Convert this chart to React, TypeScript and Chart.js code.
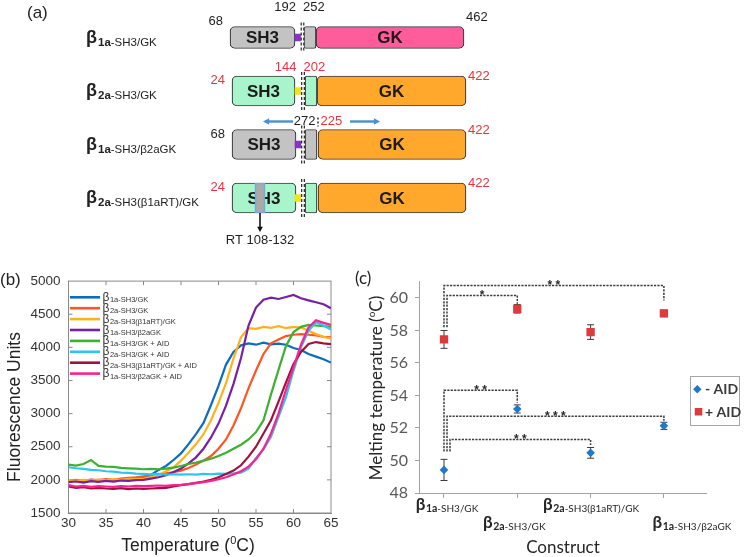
import React, { useEffect, useRef } from 'react';
import { Chart, registerables } from 'chart.js';

Chart.register(...registerables);

const SANS = '"Liberation Sans", Arial, Helvetica, sans-serif';
const LATO = 'Lato, "Liberation Sans", Arial, sans-serif';

// ---------------- Panel (a): domain schematic ----------------
const schematicRows = ['β1a-SH3/GK', 'β2a-SH3/GK', 'β1a-SH3/β2aGK', 'β2a-SH3(β1aRT)/GK'];
const sh3Span = [[230, 295], [232, 295], [232, 296], [232, 296]];
const linkerSpan = [[295, 301], [295, 301], [295, 301], [295, 301]];
const hookSpan = [[304, 316], [305, 317], [305, 317], [305, 317]];
const gkSpan = [[316, 464], [317, 466], [318, 466], [318, 466]];
const rtSpan = [null, null, null, [255, 265]];
const firstResidue = ['68', '24', '68', '24'];
const lastResidue = ['462', '422', '422', '422'];
const sh3EndResidue = ['192', '144', '', ''];
const gkStartResidue = ['252', '202', '', ''];
const chimeraJunction = ['272', '225'];
const rtLabel = 'RT 108-132';

// ---------------- Panel (b): melting curves ----------------
const temperatureC = [30, 31, 32, 33, 34, 35, 36, 37, 38, 39, 40, 41, 42, 43, 44, 45, 46, 47, 48, 49, 50, 51, 52, 53, 54, 55, 56, 57, 58, 59, 60, 61, 62, 63, 64, 65];
const fluorB1aSh3Gk = [1985, 1995, 1980, 2000, 1990, 2005, 1995, 2010, 2000, 2020, 2035, 2075, 2150, 2210, 2300, 2400, 2540, 2690, 2860, 3130, 3420, 3740, 3930, 4030, 4060, 4040, 4070, 4045, 4055, 4040, 3990, 3960, 3900, 3860, 3820, 3770];
const fluorB2aSh3Gk = [1990, 2000, 1985, 2005, 1995, 2010, 2000, 2020, 2030, 2040, 2055, 2070, 2085, 2100, 2115, 2140, 2180, 2230, 2290, 2360, 2470, 2610, 2820, 3080, 3380, 3650, 3900, 4060, 4120, 4170, 4190, 4200, 4190, 4180, 4160, 4150];
const fluorB2aRtGk = [1995, 1985, 2000, 1990, 2005, 1995, 2010, 2000, 2015, 2010, 2020, 2040, 2075, 2130, 2190, 2290, 2410, 2540, 2690, 2900, 3160, 3460, 3830, 4150, 4290, 4280, 4310, 4295, 4320, 4290, 4310, 4300, 4250, 4200, 4160, 4130];
const fluorB1aB2aGk = [1965, 1975, 1960, 1980, 1970, 1985, 1975, 1990, 1985, 1995, 2000, 2020, 2040, 2070, 2120, 2170, 2250, 2340, 2470, 2640, 2850, 3120, 3450, 3840, 4330, 4600, 4720, 4750, 4730, 4760, 4790, 4740, 4710, 4680, 4650, 4590];
const fluorB1aSh3GkAid = [2230, 2215, 2240, 2300, 2210, 2200, 2195, 2180, 2175, 2170, 2160, 2165, 2160, 2170, 2185, 2210, 2240, 2260, 2290, 2320, 2360, 2410, 2470, 2530, 2610, 2720, 2900, 3290, 3660, 4020, 4230, 4310, 4340, 4330, 4320, 4310];
const fluorB2aSh3GkAid = [2190, 2175, 2165, 2150, 2145, 2130, 2125, 2110, 2105, 2095, 2090, 2085, 2090, 2080, 2085, 2080, 2085, 2080, 2090, 2085, 2095, 2090, 2100, 2110, 2170, 2330, 2460, 2650, 2950, 3250, 3650, 4000, 4250, 4380, 4330, 4270];
const fluorB2aRtGkAid = [1900, 1880, 1890, 1870, 1880, 1870, 1865, 1875, 1860, 1870, 1865, 1870, 1875, 1880, 1900, 1920, 1935, 1955, 1975, 2000, 2040, 2090, 2140, 2220, 2350, 2500, 2700, 2900, 3180, 3470, 3750, 3930, 4050, 4080, 4060, 4050];
const fluorB1aB2aGkAid = [1920, 1900, 1910, 1895, 1905, 1900, 1895, 1905, 1900, 1910, 1905, 1910, 1915, 1910, 1920, 1925, 1935, 1950, 1965, 1985, 2010, 2040, 2080, 2130, 2200, 2310, 2470, 2700, 3000, 3360, 3700, 4040, 4300, 4410, 4370, 4340];
const seriesValues = [fluorB1aSh3Gk, fluorB2aSh3Gk, fluorB2aRtGk, fluorB1aB2aGk, fluorB1aSh3GkAid, fluorB2aSh3GkAid, fluorB2aRtGkAid, fluorB1aB2aGkAid];
const seriesNames = ['β1a-SH3/GK', 'β2a-SH3/GK', 'β2a-SH3(β1aRT)/GK', 'β1a-SH3/β2aGK', 'β1a-SH3/GK + AID', 'β2a-SH3/GK + AID', 'β2a-SH3(β1aRT)/GK + AID', 'β1a-SH3/β2aGK + AID'];
const seriesColors = ['#0b6dbd', '#ff5522', '#ffb21c', '#7a1fa0', '#3cb030', '#2cc4f0', '#a3123c', '#ff1f8f'];
const fluorTicks = [1500, 2000, 2500, 3000, 3500, 4000, 4500, 5000];

// ---------------- Panel (c): melting temperatures ----------------
const constructNames = ['β1a-SH3/GK', 'β2a-SH3/GK', 'β2a-SH3(β1aRT)/GK', 'β1a-SH3/β2aGK'];
const constructIndex = [1, 2, 3, 4];
const tmMinusAid = [49.42, 53.17, 50.47, 52.13];
const sdMinusAid = [0.65, 0.25, 0.33, 0.22];
const tmPlusAid = [57.45, 59.33, 57.9, 59.05];
const sdPlusAid = [0.55, 0.26, 0.45, 0.2];
const sigFrom = [1, 1, 1, 1, 1];
const sigTo = [2, 4, 2, 4, 3];
const sigLevel = [60.15, 60.76, 54.32, 52.72, 51.29];
const sigDropFrom = [58.2, 58.2, 50.55, 50.55, 50.55];
const sigDropTo = [59.65, 59.85, 53.55, 52.45, 50.95];
const sigStars = ['*', '**', '**', '***', '**'];

// ---------------- helpers ----------------
const BLACK = '#1e1e1e';
const RED = '#e8333b';
const FRAME = '#8a8a8a';

function line(ctx: any, x1: number, y1: number, x2: number, y2: number) {
  ctx.beginPath();
  ctx.moveTo(x1, y1);
  ctx.lineTo(x2, y2);
  ctx.stroke();
}

function text(ctx: any, s: string, x: number, y: number, font: string, color: string, align: string) {
  ctx.save();
  ctx.font = font;
  ctx.fillStyle = color;
  ctx.textAlign = align;
  ctx.textBaseline = 'middle';
  ctx.fillText(s, x, y);
  ctx.restore();
}

function drawBeta(ctx: any, label: string, x: number, baseline: number, o: any) {
  const head = label.charAt(0);
  const sub = label.slice(1);
  const strong = sub.slice(0, o.boldCount);
  const rest = sub.slice(o.boldCount);
  const fHead = `${o.betaBold ? 'bold ' : ''}${o.betaSize}px ${o.family}`;
  const fStrong = `bold ${o.subSize}px ${o.family}`;
  const fRest = `${o.restSize || o.subSize}px ${o.family}`;
  ctx.save();
  ctx.fillStyle = o.color;
  ctx.textAlign = 'left';
  ctx.textBaseline = 'alphabetic';
  ctx.font = fHead;
  const w0 = ctx.measureText(head).width;
  ctx.font = fStrong;
  const w1 = ctx.measureText(strong).width;
  ctx.font = fRest;
  const w2 = ctx.measureText(rest).width;
  const gap = o.gap ?? 1;
  const total = w0 + gap + w1 + w2;
  let sx = o.align === 'center' ? x - total / 2 : o.align === 'right' ? x - total : x;
  ctx.font = fHead;
  ctx.fillText(head, sx, baseline);
  sx += w0 + gap;
  ctx.font = fStrong;
  ctx.fillText(strong, sx, baseline + o.drop);
  sx += w1;
  ctx.font = fRest;
  ctx.fillText(rest, sx, baseline + o.drop);
  ctx.restore();
}

function drawRich(ctx: any, pieces: any[], cx: number, cy: number, family: string, color: string, rotate: boolean) {
  ctx.save();
  ctx.translate(cx, cy);
  if (rotate) ctx.rotate(-Math.PI / 2);
  ctx.fillStyle = color;
  ctx.textAlign = 'left';
  ctx.textBaseline = 'alphabetic';
  let total = 0;
  const widths = pieces.map((p) => {
    ctx.font = `${p.size}px ${family}`;
    const w = ctx.measureText(p.t).width;
    total += w;
    return w;
  });
  const main = Math.max(...pieces.map((p) => p.size));
  let x = -total / 2;
  const base = main * 0.36;
  pieces.forEach((p, i) => {
    ctx.font = `${p.size}px ${family}`;
    ctx.fillText(p.t, x, base - (p.rise || 0));
    x += widths[i];
  });
  ctx.restore();
}

function arrow(ctx: any, x1: number, y1: number, x2: number, y2: number, color: string, width: number, head: number) {
  const ang = Math.atan2(y2 - y1, x2 - x1);
  ctx.save();
  ctx.strokeStyle = color;
  ctx.fillStyle = color;
  ctx.lineWidth = width;
  line(ctx, x1, y1, x2 - Math.cos(ang) * head * 0.8, y2 - Math.sin(ang) * head * 0.8);
  ctx.beginPath();
  ctx.moveTo(x2, y2);
  ctx.lineTo(x2 - head * Math.cos(ang - 0.5), y2 - head * Math.sin(ang - 0.5));
  ctx.lineTo(x2 - head * Math.cos(ang + 0.5), y2 - head * Math.sin(ang + 0.5));
  ctx.closePath();
  ctx.fill();
  ctx.restore();
}

// ---------------- Panel (a) chart ----------------
const ROW_H = [22, 30, 30, 30];
const sh3Fill = ['#c3c3c3', '#a8f4cb', '#c3c3c3', '#a8f4cb'];
const gkFill = ['#ff5c9c', '#ffa82b', '#ffa82b', '#ffa82b'];
const linkerFill = ['#8b2fc9', '#f1e21a', '#8b2fc9', '#f1e21a'];
const firstResidueColor = [BLACK, RED, BLACK, RED];
const lastResidueColor = [BLACK, RED, RED, RED];

function buildA(): any {
  const segs = [
    { spans: sh3Span, fills: sh3Fill, kind: 'box', radius: 5 },
    { spans: hookSpan, fills: sh3Fill, kind: 'box', radius: 2 },
    { spans: gkSpan, fills: gkFill, kind: 'box', radius: 5 },
    { spans: linkerSpan, fills: linkerFill, kind: 'linker', radius: 0 },
    { spans: rtSpan, fills: ['#aaaaaa', '#aaaaaa', '#aaaaaa', '#aaaaaa'], kind: 'rt', radius: 0 },
  ];
  const datasets: any[] = [];
  segs.forEach((seg) => {
    schematicRows.forEach((_, r) => {
      const span = seg.spans[r];
      if (!span) return;
      datasets.push({
        data: schematicRows.map((__, i) => (i === r ? span : null)),
        backgroundColor: seg.fills[r],
        borderColor: seg.kind === 'rt' ? '#74a9da' : seg.kind === 'linker' ? seg.fills[r] : '#3b3b3b',
        borderWidth: seg.kind === 'rt' ? 1.5 : seg.kind === 'linker' ? 0 : 1.2,
        borderRadius: seg.radius,
        borderSkipped: false,
        barThickness: seg.kind === 'linker' ? 7 : ROW_H[r],
        grouped: false,
        order: seg.kind === 'box' ? 3 : seg.kind === 'linker' ? 2 : 1,
        isRt: seg.kind === 'rt',
      });
    });
  });

  const plugin = {
    id: 'schematic',
    afterDatasetsDraw(chart: any) {
      const ctx = chart.ctx;
      const xs = chart.scales.x;
      const ys = chart.scales.y;
      const numFont = `13px ${SANS}`;
      text(ctx, '(a)', 27, 13.5, `17px ${SANS}`, '#222', 'left');
      schematicRows.forEach((name, r) => {
        const cy = ys.getPixelForValue(r);
        const h = ROW_H[r];
        const top = cy - h / 2;
        const bot = cy + h / 2;
        drawBeta(ctx, name, 86, cy + 5, { family: SANS, betaSize: 18, betaBold: true, subSize: 11.5, boldCount: 2, drop: 3, color: '#222', align: 'left' });
        const sx = xs.getPixelForValue((sh3Span[r][0] + sh3Span[r][1]) / 2);
        text(ctx, 'SH3', sx, cy + 1, `bold 17px ${SANS}`, '#1b1b1b', 'center');
        const gx = xs.getPixelForValue((gkSpan[r][0] + gkSpan[r][1]) / 2);
        text(ctx, 'GK', gx, cy + 1, `bold 17px ${SANS}`, '#1b1b1b', 'center');
        // junction dashed line
        const dx = xs.getPixelForValue((linkerSpan[r][1] + hookSpan[r][0]) / 2);
        ctx.save();
        ctx.strokeStyle = '#ffffff';
        ctx.lineWidth = 3.4;
        line(ctx, dx, top - 4, dx, bot + 4);
        ctx.strokeStyle = '#111';
        ctx.lineWidth = 1.1;
        ctx.setLineDash([3, 2]);
        line(ctx, dx - 1.3, top - 4, dx - 1.3, bot + 4);
        line(ctx, dx + 1.3, top - 4, dx + 1.3, bot + 4);
        ctx.restore();
        // residue numbers
        const s0 = xs.getPixelForValue(sh3Span[r][0]);
        const g1 = xs.getPixelForValue(gkSpan[r][1]);
        text(ctx, firstResidue[r], s0 - 7, r === 0 ? top - 5 : top + 4.5, numFont, firstResidueColor[r], 'right');
        text(ctx, lastResidue[r], g1 + 2, r === 0 ? top - 9 : top + 0.5, numFont, lastResidueColor[r], 'left');
        if (sh3EndResidue[r]) {
          const jy = r === 0 ? top - 19.5 : top - 9;
          text(ctx, sh3EndResidue[r], dx - 6.5, jy, numFont, firstResidueColor[r], 'right');
          text(ctx, gkStartResidue[r], dx + 0.5, jy, numFont, firstResidueColor[r], 'left');
        }
      });
      // chimera junction line between rows 2 and 3
      {
        const cy3 = ys.getPixelForValue(2) - ROW_H[2] / 2 - 8;
        const jx = xs.getPixelForValue(gkSpan[2][0]);
        text(ctx, chimeraJunction[0], jx - 2.5, cy3, numFont, BLACK, 'right');
        text(ctx, chimeraJunction[1], jx + 2.5, cy3, numFont, RED, 'left');
        ctx.save();
        ctx.strokeStyle = '#111';
        ctx.lineWidth = 1.3;
        ctx.setLineDash([2, 2]);
        line(ctx, jx, cy3 - 4, jx, cy3 + 5);
        ctx.restore();
        arrow(ctx, jx - 25, cy3, jx - 55, cy3, '#4a8fd1', 2.4, 7);
        arrow(ctx, jx + 32, cy3, jx + 62, cy3, '#4a8fd1', 2.4, 7);
      }
      // RT swap marker
      const rtIdx = chart.data.datasets.findIndex((d: any) => d.isRt);
      if (rtIdx >= 0) {
        const el = chart.getDatasetMeta(rtIdx).data[3];
        if (el) el.draw(ctx);
        const r = 3;
        const rx = xs.getPixelForValue((rtSpan[r]![0] + rtSpan[r]![1]) / 2);
        const bot = ys.getPixelForValue(r) + ROW_H[r] / 2;
        arrow(ctx, rx, bot, rx, bot + 19, '#111', 1.6, 6);
        text(ctx, rtLabel, rx, bot + 27, numFont, '#222', 'center');
      }
    },
  };

  return {
    type: 'bar',
    data: { labels: schematicRows, datasets },
    options: {
      indexAxis: 'y',
      responsive: false,
      maintainAspectRatio: false,
      animation: false,
      events: [],
      layout: { padding: { top: 10.75, bottom: 40.25, left: 0, right: 0 } },
      plugins: { legend: { display: false }, tooltip: { enabled: false } },
      scales: {
        x: { type: 'linear', min: 0, max: 745, display: false },
        y: { type: 'category', display: false, offset: true },
      },
    },
    plugins: [plugin],
  };
}

// ---------------- Panel (b) chart ----------------
function buildB(): any {
  const plugin = {
    id: 'panelB',
    beforeDatasetsDraw(chart: any) {
      const { ctx, chartArea: a, scales } = chart;
      const x = scales.x;
      const y = scales.y;
      ctx.save();
      ctx.strokeStyle = FRAME;
      ctx.lineWidth = 1;
      ctx.strokeRect(a.left, a.top, a.right - a.left, a.bottom - a.top);
      temperatureC.forEach((t) => {
        if (t % 5 !== 0 || t === 30 || t === 65) return;
        const px = x.getPixelForValue(t);
        line(ctx, px, a.bottom, px, a.bottom - 4);
        line(ctx, px, a.top, px, a.top + 4);
      });
      fluorTicks.forEach((v) => {
        if (v === 1500 || v === 5000) return;
        const py = y.getPixelForValue(v);
        line(ctx, a.left, py, a.left + 4, py);
        line(ctx, a.right, py, a.right - 4, py);
      });
      ctx.restore();
    },
    afterDatasetsDraw(chart: any) {
      const ctx = chart.ctx;
      seriesNames.forEach((name, i) => {
        const cy = 32.3 + 10.9 * i;
        ctx.save();
        ctx.strokeStyle = seriesColors[i];
        ctx.lineWidth = 2.6;
        line(ctx, 70, cy, 100, cy);
        ctx.restore();
        drawBeta(ctx, name, 102.5, cy + 3.5, { family: SANS, betaSize: 12, subSize: 7.5, boldCount: 0, drop: 1.5, color: '#333', align: 'left', gap: 0.5 });
      });
    },
    afterDraw(chart: any) {
      const ctx = chart.ctx;
      text(ctx, '(b)', 0, 15.5, `17px ${SANS}`, '#222', 'left');
      drawRich(ctx, [{ t: 'Fluorescence Units', size: 17.5 }], 13.5, 142, SANS, '#222', true);
      drawRich(ctx, [{ t: 'Temperature (', size: 17.5 }, { t: '0', size: 11, rise: 7 }, { t: 'C)', size: 17.5 }], 188, 280, SANS, '#222', false);
    },
  };

  return {
    type: 'line',
    data: {
      datasets: seriesValues.map((vals, i) => ({
        label: seriesNames[i],
        data: temperatureC.map((t, k) => ({ x: t, y: vals[k] })),
        borderColor: seriesColors[i],
        backgroundColor: seriesColors[i],
        borderWidth: 2.2,
        pointRadius: 0,
        tension: 0,
        fill: false,
        order: seriesValues.length - i,
      })),
    },
    options: {
      responsive: false,
      maintainAspectRatio: false,
      animation: false,
      events: [],
      layout: { padding: { top: 16, right: 39, left: 0, bottom: 0 } },
      plugins: { legend: { display: false }, tooltip: { enabled: false } },
      scales: {
        x: {
          type: 'linear',
          min: 30,
          max: 65,
          afterFit: (s: any) => { s.height = 44; },
          ticks: { stepSize: 5, padding: 2, color: '#333', maxRotation: 0, font: { family: SANS, size: 13.5 } },
          grid: { display: false, drawTicks: false },
          border: { display: true, color: FRAME },
        },
        y: {
          type: 'linear',
          min: 1500,
          max: 5000,
          afterFit: (s: any) => { s.width = 68.5; },
          ticks: { stepSize: 500, padding: 8, color: '#333', font: { family: SANS, size: 13.5 }, callback: (v: any) => String(v) },
          grid: { display: false, drawTicks: false },
          border: { display: true, color: FRAME },
        },
      },
    },
    plugins: [plugin],
  };
}

// ---------------- Panel (c) chart ----------------
const BLUE_PT = '#1f78c9';
const RED_PT = '#de3a3c';
const AXIS_C = '#a3a3a3';

function buildC(): any {
  const plugin = {
    id: 'panelC',
    beforeDatasetsDraw(chart: any) {
      const { ctx, scales } = chart;
      const x = scales.x;
      const y = scales.y;
      const leftShift = [3, 0, 0, 3, 6];
      sigFrom.forEach((f, i) => {
        const x1 = x.getPixelForValue(f) + leftShift[i];
        const x2 = x.getPixelForValue(sigTo[i]);
        const yl = y.getPixelForValue(sigLevel[i]);
        const y1 = y.getPixelForValue(sigDropFrom[i]);
        const y2 = y.getPixelForValue(sigDropTo[i]);
        ctx.save();
        ctx.strokeStyle = '#3a3a3a';
        ctx.lineWidth = 1.5;
        ctx.setLineDash([2.2, 1.2]);
        ctx.beginPath();
        ctx.moveTo(x1, y1);
        ctx.lineTo(x1, yl);
        ctx.lineTo(x2, yl);
        ctx.lineTo(x2, y2);
        ctx.stroke();
        ctx.restore();
        ctx.save();
        ctx.font = `bold 12px ${SANS}`;
        ctx.fillStyle = '#2a2a2a';
        ctx.textAlign = 'center';
        ctx.textBaseline = 'alphabetic';
        ctx.fillText(sigStars[i].split('').join(' '), (x1 + x2) / 2, yl + 3.5);
        ctx.restore();
      });
      const drawErr = (xv: number, yv: number, e: number) => {
        const px = x.getPixelForValue(xv);
        const t = y.getPixelForValue(yv + e);
        const b = y.getPixelForValue(yv - e);
        line(ctx, px, t, px, b);
        line(ctx, px - 3.5, t, px + 3.5, t);
        line(ctx, px - 3.5, b, px + 3.5, b);
      };
      ctx.save();
      ctx.strokeStyle = '#3a3a3a';
      ctx.lineWidth = 1;
      constructIndex.forEach((xv, i) => {
        drawErr(xv, tmMinusAid[i], sdMinusAid[i]);
        drawErr(xv, tmPlusAid[i], sdPlusAid[i]);
      });
      ctx.restore();
    },
    afterDraw(chart: any) {
      const { ctx, scales } = chart;
      const x = scales.x;
      const shift = [3, -3, 0.5, 28];
      constructNames.forEach((name, i) => {
        const px = x.getPixelForValue(constructIndex[i]) + shift[i];
        const base = i % 2 === 0 ? 245 : 263;
        drawBeta(ctx, name, px, base, { family: LATO, betaSize: 17, betaBold: true, subSize: 10.5, restSize: 10, boldCount: 2, drop: 2, color: '#262626', align: 'center', gap: 0.5 });
      });
      text(ctx, '(c)', 5, 13.5, `17px ${LATO}`, '#222', 'left');
      drawRich(ctx, [{ t: 'Melting temperature (', size: 17 }, { t: 'o', size: 10, rise: 7 }, { t: 'C)', size: 17 }], 26, 123, LATO, '#262626', true);
      drawRich(ctx, [{ t: 'Construct', size: 17 }], 213, 282, LATO, '#262626', false);
      ctx.save();
      ctx.strokeStyle = '#a6a6a6';
      ctx.lineWidth = 1;
      ctx.strokeRect(340.5, 111.5, 49, 49);
      ctx.fillStyle = BLUE_PT;
      ctx.beginPath();
      ctx.moveTo(347.3, 120);
      ctx.lineTo(351.5, 124.3);
      ctx.lineTo(347.3, 128.6);
      ctx.lineTo(343.1, 124.3);
      ctx.closePath();
      ctx.fill();
      ctx.fillStyle = RED_PT;
      ctx.fillRect(344.8, 143, 7.5, 7.5);
      ctx.restore();
      text(ctx, '- AID', 355, 124.5, `bold 14px ${LATO}`, '#3a3a3a', 'left');
      text(ctx, '+ AID', 355, 147, `bold 14px ${LATO}`, '#3a3a3a', 'left');
    },
  };

  return {
    type: 'scatter',
    data: {
      datasets: [
        {
          label: '- AID',
          data: constructIndex.map((xv, i) => ({ x: xv, y: tmMinusAid[i] })),
          pointStyle: 'rectRot',
          pointRadius: 4.3,
          backgroundColor: BLUE_PT,
          borderColor: BLUE_PT,
          borderWidth: 0,
        },
        {
          label: '+ AID',
          data: constructIndex.map((xv, i) => ({ x: xv, y: tmPlusAid[i] })),
          pointStyle: 'rect',
          pointRadius: 5.9,
          backgroundColor: RED_PT,
          borderColor: RED_PT,
          borderWidth: 0,
        },
      ],
    },
    options: {
      responsive: false,
      maintainAspectRatio: false,
      animation: false,
      events: [],
      layout: { padding: { top: 16.7, right: 38.3, left: 0, bottom: 0 } },
      plugins: { legend: { display: false }, tooltip: { enabled: false } },
      scales: {
        x: {
          type: 'linear',
          min: 0.659,
          max: 4.584,
          afterFit: (s: any) => { s.height = 64; },
          afterBuildTicks: (s: any) => { s.ticks = constructIndex.map((v) => ({ value: v })); },
          ticks: { display: false },
          grid: { display: true, drawOnChartArea: false, drawTicks: true, tickLength: 5, color: AXIS_C },
          border: { display: true, color: AXIS_C },
        },
        y: {
          type: 'linear',
          min: 48,
          max: 61,
          afterFit: (s: any) => { s.width = 69; },
          ticks: { stepSize: 2, includeBounds: false, padding: 7, color: '#595959', font: { family: LATO, size: 16 } },
          grid: { display: true, drawOnChartArea: false, drawTicks: true, tickLength: 4, color: AXIS_C },
          border: { display: true, color: AXIS_C },
        },
      },
    },
    plugins: [plugin],
  };
}

export default function App() {
  const aRef = useRef<HTMLCanvasElement>(null);
  const bRef = useRef<HTMLCanvasElement>(null);
  const cRef = useRef<HTMLCanvasElement>(null);

  useEffect(() => {
    const charts: Chart[] = [];
    if (aRef.current) charts.push(new Chart(aRef.current, buildA()));
    if (bRef.current) charts.push(new Chart(bRef.current, buildB()));
    if (cRef.current) charts.push(new Chart(cRef.current, buildC()));
    return () => charts.forEach((c) => c.destroy());
  }, []);

  return (
    <div style={{ position: 'absolute', left: 0, top: 0, width: 745, height: 557, background: '#ffffff', overflow: 'hidden' }}>
      <canvas ref={aRef} width={745} height={265} style={{ position: 'absolute', left: 0, top: 0, width: 745, height: 265 }} />
      <canvas ref={bRef} width={370} height={292} style={{ position: 'absolute', left: 0, top: 265, width: 370, height: 292 }} />
      <canvas ref={cRef} width={395} height={292} style={{ position: 'absolute', left: 350, top: 265, width: 395, height: 292 }} />
    </div>
  );
}
